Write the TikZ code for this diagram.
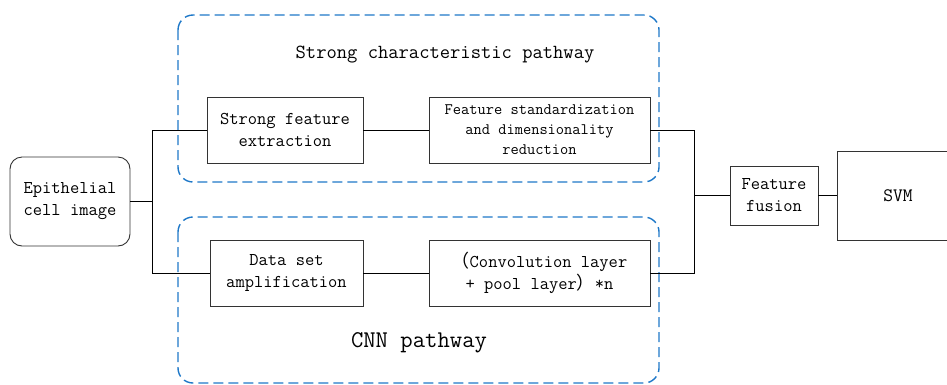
\documentclass[tikz,border=0pt]{standalone}
\usepackage{fontspec}
\newfontfamily\cjkfont{Noto Sans CJK SC}
\definecolor{dashblue}{RGB}{30,120,200}
\begin{document}
\begin{tikzpicture}[x=1pt,y=-1pt,
  fs/.style={font=\ttfamily\fontsize{#1}{22}\selectfont},
  blk/.style={draw=black!80,line width=0.9pt,align=center,inner sep=0pt,fs=18},
  conn/.style={draw=black,line width=1pt},
  group/.style={draw=dashblue,line width=1.4pt,dash pattern=on 10pt off 5pt,rounded corners=15pt}]
\useasboundingbox (0,0) rectangle (947,384);
% dashed groups
\draw[group] (178,15) rectangle (659,182);
\draw[group] (178,217) rectangle (659,383);
\node[fs=20] (t1) at (445,55) {Strong characteristic pathway};
\node[fs=24] (t2) at (419,343) {CNN pathway};
% blocks
\node[blk,rounded corners=12pt,minimum width=120pt,minimum height=89pt] (img) at (70,201.5)
  {Epithelial\\cell image};
\node[blk,minimum width=156pt,minimum height=66pt] (sfe) at (285,130)
  {Strong feature\\extraction};
\node[blk,minimum width=221pt,minimum height=66pt,font=\ttfamily\fontsize{16}{20}\selectfont] (fsd) at (539.5,130)
  {Feature standardization\\and dimensionality\\reduction};
\node[blk,minimum width=153pt,minimum height=66pt] (dsa) at (286.5,273)
  {Data set\\amplification};
\node[blk,minimum width=221pt,minimum height=66pt] (conv) at (539.5,273)
  {{\cjkfont （}Convolution layer\\+ pool layer{\cjkfont ）}*n};
\node[blk,minimum width=88pt,minimum height=59pt] (fus) at (774,195.5)
  {Feature\\fusion};
\node[blk,minimum width=122pt,minimum height=89pt,fs=19] (svm) at (898,195.5)
  {SVM};
% connectors
\coordinate (jl) at (152,201.5);
\coordinate (jr) at (694,195.5);
\draw[conn] (img.east) -- (jl);
\draw[conn] (jl) |- (sfe.west);
\draw[conn] (jl) |- (dsa.west);
\draw[conn] (sfe.east) -- (fsd.west);
\draw[conn] (dsa.east) -- (conv.west);
\draw[conn] (fsd.east) -| (jr);
\draw[conn] (conv.east) -| (jr);
\draw[conn] (jr) -- (fus.west);
\draw[conn] (fus.east) -- (svm.west);
\end{tikzpicture}
\end{document}
